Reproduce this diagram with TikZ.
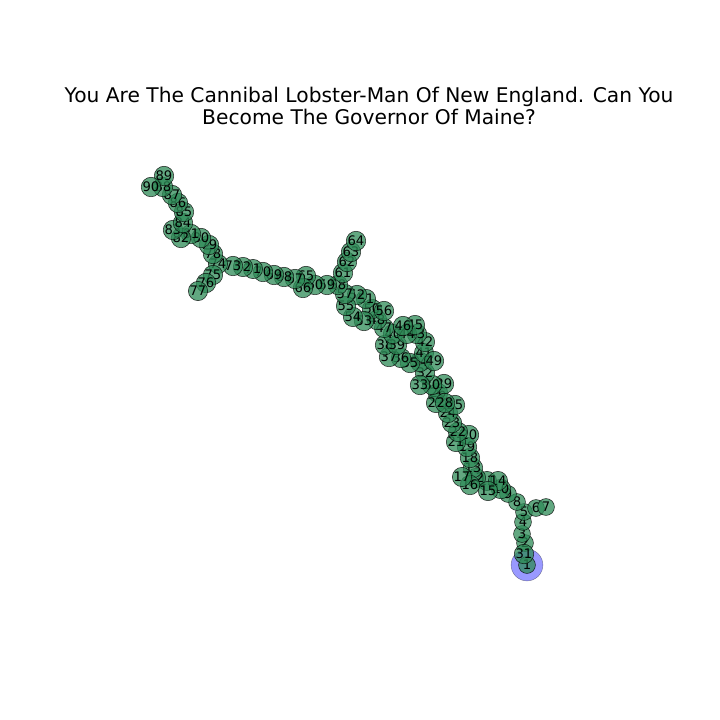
\documentclass[tikz,border=0pt]{standalone}
\usepackage{fontspec}
\setmainfont{DejaVu Sans}
\usepackage{tikz}
\usetikzlibrary{positioning}

\begin{document}
\begin{tikzpicture}[x=0.01in,y=-0.01in]

\tikzset{
  room/.style={circle, draw=black, draw opacity=0.8, line width=0.4pt,
               fill=seagreen, fill opacity=0.75, text opacity=1,
               minimum size=12.2pt, inner sep=0pt,
               font=\fontsize{9.5}{9.5}\selectfont},
  current/.style={circle, fill=blue, fill opacity=0.4,
                  draw=black, draw opacity=0.4, line width=0.3pt,
                  minimum size=23pt, inner sep=0pt},
  titletext/.style={font=\fontsize{14.6}{16}\selectfont, align=center}
}
\definecolor{seagreen}{RGB}{46,139,87}

\useasboundingbox (0,0) rectangle (720,720);

% Title
\node[titletext] (title) at (369,106) {You Are The Cannibal Lobster-Man Of New England. Can You\\Become The Governor Of Maine?};

% Current room
\node[current] (start) at (527,565) {};

% Rooms
\foreach \n/\x/\y in {
  1/527/565, 2/525/543, 3/522/534, 4/523/522, 5/524/512, 6/536/508, 7/546/507,
  8/517/502, 9/508/494, 10/501/489, 11/487/481, 12/476/478, 13/473/468,
  14/498/481, 15/488/491, 16/470/485, 17/462/477, 18/470/458, 19/467/447,
  20/469/435, 21/456/442, 22/458/432, 23/452/423, 24/448/413, 25/455/405,
  26/438/393, 27/436/403, 28/445/403, 29/444/384, 30/432/385, 31/524/554,
  32/425/373, 33/420/385, 34/420/362, 35/410/363, 36/401/358, 37/389/357,
  38/385/345, 39/397/345, 40/393/334, 41/424/353, 42/425/342, 43/417/334,
  44/407/334, 45/415/325, 46/403/326, 47/384/328, 48/377/320, 49/434/361,
  50/372/309, 51/366/299, 52/357/295, 53/364/321, 54/353/317, 55/346/306,
  56/384/311, 57/345/294, 58/338/285, 59/327/285, 60/315/285, 61/343/273,
  62/347/262, 63/351/252, 64/356/241, 65/306/276, 66/303/288, 67/295/279,
  68/284/277, 69/274/275, 70/263/272, 71/253/269, 72/243/267, 73/233/266,
  74/218/264, 75/213/275, 76/206/283, 77/198/291, 78/213/254, 79/209/245,
  80/201/238, 81/191/234, 82/181/238, 83/173/230, 84/183/223, 85/184/212,
  86/178/203, 87/172/195, 88/163/187, 89/164/176, 90/151/187}
{
  \node[room] (n\n) at (\x,\y) {\n};
}

\end{tikzpicture}
\end{document}
